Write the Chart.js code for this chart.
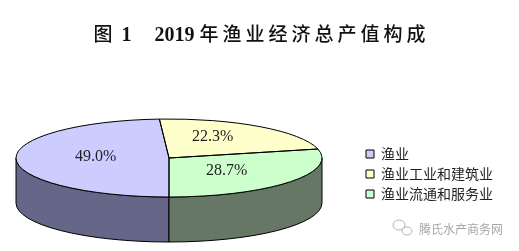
<!DOCTYPE html>
<html>
<head>
<meta charset="utf-8">
<script src="https://cdn.jsdelivr.net/npm/chart.js@4.4.0/dist/chart.umd.min.js"></script>
<style>
    html, body { margin: 0; padding: 0; background: #fff; overflow: hidden; }
    #wrap { width: 519px; height: 251px; position: relative; }
</style>
</head>
<body>
<div id="wrap"><canvas id="chart-pizza"></canvas></div>
<script>
const titulo = '图 1　2019 年渔业经济总产值构成';
const categorias = ['渔业', '渔业工业和建筑业', '渔业流通和服务业'];
const valores = [49.0, 22.3, 28.7];
const marcaDagua = '腾氏水产商务网';

const coresTopo = ['#ccccff', '#ffffcc', '#ccffcc'];
const coresLado = ['#666688', '#8a8a66', '#667766'];

// vista 3d: elipse do topo e altura da lateral
const vista = { cx: 169, cy: 158, rx: 153, ry: 39, altura: 45 };

function normalizar(a) {
    a = a % (2 * Math.PI);
    if (a < 0) a += 2 * Math.PI;
    return a;
}

const pizza3d = {
    id: 'pizza3d',
    beforeDatasetsDraw(chart) {
        const ctx = chart.ctx;
        const arcos = chart.getDatasetMeta(0).data;
        const v = vista;

        // LATERAL (so a parte da frente aparece)
        arcos.forEach(function(arco, i){
            const s = normalizar(arco.startAngle);
            const e = s + (arco.endAngle - arco.startAngle);
            [[0, Math.PI], [2 * Math.PI, 3 * Math.PI]].forEach(function(faixa){
                const a1 = Math.max(s, faixa[0]);
                const a2 = Math.min(e, faixa[1]);
                if (a2 <= a1) return;
                ctx.beginPath();
                ctx.ellipse(v.cx, v.cy, v.rx, v.ry, 0, a1, a2);
                ctx.lineTo(v.cx + v.rx * Math.cos(a2), v.cy + v.ry * Math.sin(a2) + v.altura);
                ctx.ellipse(v.cx, v.cy + v.altura, v.rx, v.ry, 0, a2, a1, true);
                ctx.closePath();
                ctx.fillStyle = coresLado[i];
                ctx.fill();
                ctx.lineWidth = 1;
                ctx.strokeStyle = '#000';
                ctx.stroke();
            });
        });

        // achata o circulo do chart.js na elipse do topo
        const a0 = arcos[0];
        ctx.save();
        ctx.translate(v.cx, v.cy);
        ctx.scale(v.rx / a0.outerRadius, v.ry / a0.outerRadius);
        ctx.translate(-a0.x, -a0.y);
    },
    afterDatasetsDraw(chart) {
        const ctx = chart.ctx;
        const arcos = chart.getDatasetMeta(0).data;
        const v = vista;
        ctx.restore();

        // contorno das fatias
        ctx.lineWidth = 1;
        ctx.strokeStyle = '#000';
        arcos.forEach(function(arco){
            ctx.beginPath();
            ctx.moveTo(v.cx, v.cy);
            ctx.ellipse(v.cx, v.cy, v.rx, v.ry, 0, arco.startAngle, arco.endAngle);
            ctx.closePath();
            ctx.stroke();
        });

        // PERCENTUAIS
        ctx.save();
        ctx.font = "16px 'Liberation Serif', serif";
        ctx.fillStyle = '#222';
        ctx.textAlign = 'center';
        ctx.textBaseline = 'middle';
        arcos.forEach(function(arco, i){
            const m = (arco.startAngle + arco.endAngle) / 2;
            const x = v.cx + 0.48 * v.rx * Math.cos(m);
            const y = v.cy + 0.6 * v.ry * Math.sin(m) - 2;
            ctx.fillText(valores[i].toFixed(1) + '%', x, y);
        });
        ctx.restore();
    },
    afterDraw(chart) {
        const ctx = chart.ctx;
        ctx.save();

        // TITULO com fontes mistas
        const partes = titulo.match(/[0-9A-Za-z ]+|[^0-9A-Za-z ]+/g);
        const estilo = function(p){
            if (/[0-9A-Za-z]/.test(p) || p === ' ') {
                ctx.font = "bold 20px 'Liberation Serif', serif";
                ctx.letterSpacing = '0px';
            } else {
                ctx.font = "500 19px 'Noto Sans CJK SC', sans-serif";
                ctx.letterSpacing = '4px';
            }
        };
        let total = 0;
        partes.forEach(function(p){ estilo(p); total += ctx.measureText(p).width; });
        let x = chart.width / 2 - total / 2 + 2;
        ctx.fillStyle = '#111';
        ctx.textAlign = 'left';
        ctx.textBaseline = 'alphabetic';
        partes.forEach(function(p){
            estilo(p);
            ctx.fillText(p, x, 41);
            x += ctx.measureText(p).width;
        });
        ctx.letterSpacing = '0px';

        // marca d'agua
        ctx.strokeStyle = '#b5b5b5';
        ctx.lineWidth = 1;
        ctx.beginPath();
        ctx.ellipse(399, 225, 6, 5, 0, 0, 2 * Math.PI);
        ctx.stroke();
        ctx.beginPath();
        ctx.ellipse(407, 231, 5, 4, 0, 0, 2 * Math.PI);
        ctx.stroke();
        ctx.font = "12px 'Noto Sans CJK SC', sans-serif";
        ctx.fillStyle = '#a8a8a8';
        ctx.textBaseline = 'middle';
        ctx.fillText(marcaDagua, 419, 229);
        ctx.restore();
    }
};

var chartPizza = new Chart(document.getElementById('chart-pizza').getContext('2d'), {
    type: 'pie',
    data: {
        labels: categorias,
        datasets: [{
            backgroundColor: coresTopo,
            borderWidth: 0,
            data: valores
        }]
    },
    options: {
        responsive: true,
        maintainAspectRatio: false,
        animation: false,
        rotation: 180,
        layout: {
            padding: {top: 97, right: 16, bottom: 0, left: 0}
        },
        plugins: {
            legend: {
                display: true,
                position: 'right',
                align: 'center',
                labels: {
                    boxWidth: 8,
                    boxHeight: 8,
                    padding: 6,
                    color: '#222',
                    font: {size: 14, family: "'Noto Sans CJK SC', sans-serif"},
                    generateLabels: function(chart){
                        const itens = Chart.overrides.doughnut.plugins.legend.labels.generateLabels(chart);
                        itens.forEach(function(item){
                            item.strokeStyle = '#000';
                            item.lineWidth = 1;
                        });
                        return itens;
                    }
                }
            },
            tooltip: {enabled: false},
            title: {display: false}
        }
    },
    plugins: [pizza3d]
});
</script>
</body>
</html>
